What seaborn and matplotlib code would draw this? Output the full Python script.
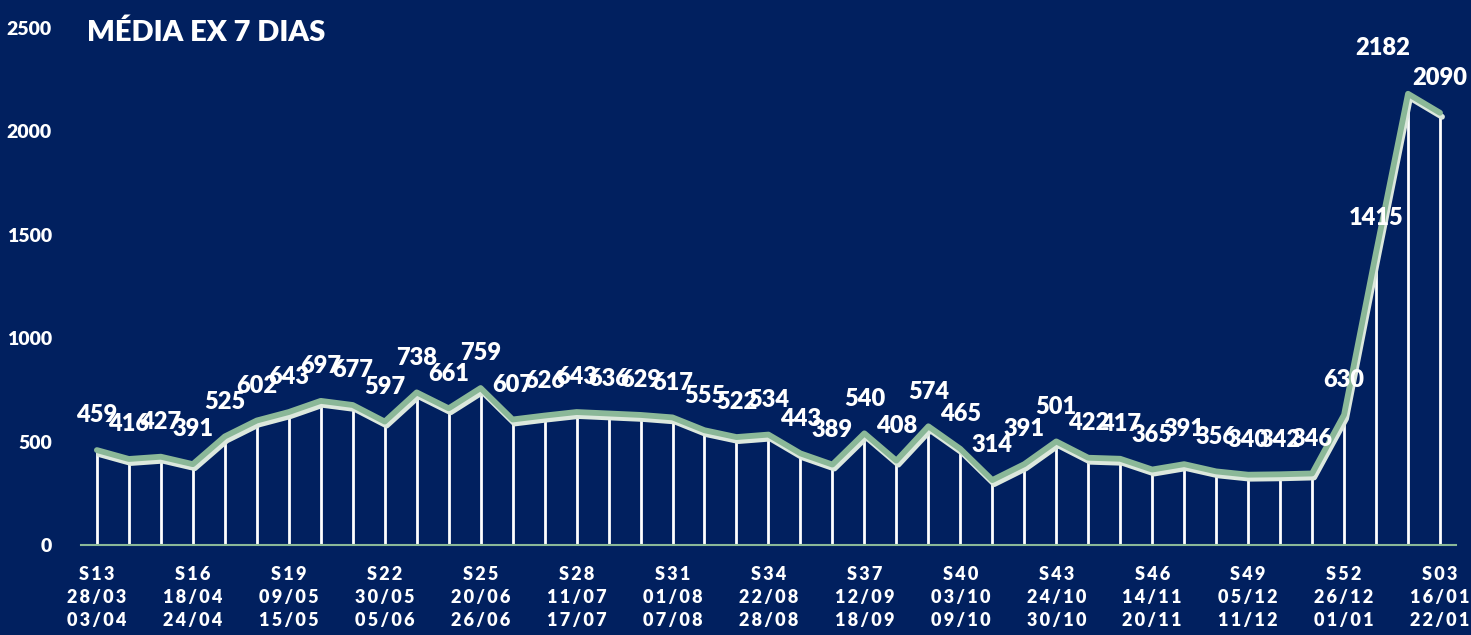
import matplotlib
matplotlib.use("Agg")
import matplotlib.pyplot as plt
import matplotlib.transforms as mtransforms
import seaborn as sns
import pandas as pd
import numpy as np

weeks = ["S13","S14","S15","S16","S17","S18","S19","S20","S21","S22","S23","S24","S25","S26",
         "S27","S28","S29","S30","S31","S32","S33","S34","S35","S36","S37","S38","S39","S40",
         "S41","S42","S43","S44","S45","S46","S47","S48","S49","S50","S51","S52","S01","S02","S03"]
values = [459, 416, 427, 391, 525, 602, 643, 697, 677, 597, 738, 661, 759, 607, 626, 643, 636,
          629, 617, 555, 522, 534, 443, 389, 540, 408, 574, 465, 314, 391, 501, 422, 417, 365,
          391, 356, 340, 342, 346, 630, 1415, 2182, 2090]
tick_weeks = ["S13","S16","S19","S22","S25","S28","S31","S34","S37","S40","S43","S46","S49","S52","S03"]
tick_start = ["28/03","18/04","09/05","30/05","20/06","11/07","01/08","22/08","12/09","03/10",
              "24/10","14/11","05/12","26/12","16/01"]
tick_end = ["03/04","24/04","15/05","05/06","26/06","17/07","07/08","28/08","18/09","09/10",
            "30/10","20/11","11/12","01/01","22/01"]
title = "MÉDIA EX 7 DIAS"

BG = "#01205F"
GREEN = "#8BB898"
LIGHT = "#DCE8DD"

sns.set_style("white", {"axes.facecolor": BG, "figure.facecolor": BG})
plt.rcParams["font.family"] = ["Lato", "DejaVu Sans"]

df = pd.DataFrame({"idx": np.arange(len(values)), "week": weeks, "value": values})

fig = plt.figure(figsize=(14.71, 6.35), dpi=100)
ax = fig.add_axes([0.055, 0.1417, 0.9348, 0.8142])
ax.set_facecolor(BG)

# drop lines
ax.vlines(df["idx"], 0, df["value"], color="white", lw=2, zorder=2)

# light shadow line, offset downward
shadow = mtransforms.offset_copy(ax.transData, fig=fig, x=2, y=-4, units="dots")
sns.lineplot(data=df, x="idx", y="value", ax=ax, color=LIGHT, lw=4.2, zorder=3,
             transform=shadow, solid_capstyle="round")
sns.lineplot(data=df, x="idx", y="value", ax=ax, color=GREEN, lw=4.2, zorder=4,
             solid_capstyle="round")

for i, v in enumerate(values):
    dx = 0
    dy = 25
    if i == len(values) - 2:
        dx, dy = -18, 33
    ax.annotate(str(v), (i, v), xytext=(dx, dy), textcoords="offset points",
                ha="center", va="center", color="white", fontsize=17, fontweight="heavy",
                zorder=6)

ax.set_xlim(-0.5, len(values) - 0.5)
ax.set_ylim(0, 2500)
ax.set_yticks([0, 500, 1000, 1500, 2000, 2500])
ax.set_yticklabels(["0", "500", "1000", "1500", "2000", "2500"])
ax.tick_params(axis="y", length=0, pad=21, labelcolor="white", labelsize=14)
for t in ax.get_yticklabels():
    t.set_fontweight("heavy")

def spaced(s):
    return "\u2009".join(s)

ax.set_xticks(np.arange(len(values)))
labels = [""] * len(values)
for k in range(len(tick_weeks)):
    labels[k * 3] = f"{spaced(tick_weeks[k])}\n{spaced(tick_start[k])}\n{spaced(tick_end[k])}"
ax.set_xticklabels(labels, linespacing=1.45)
ax.set_xticks(np.arange(len(values) + 1) - 0.5, minor=True)
ax.tick_params(axis="x", which="major", direction="out", length=6, color=GREEN, width=1.2,
               labelcolor="white", labelsize=13, pad=9)
ax.tick_params(axis="x", which="minor", direction="in", length=6, color=GREEN, width=1.2)
for t in ax.get_xticklabels():
    t.set_fontweight("heavy")

ax.set_xlabel("")
ax.set_ylabel("")
for s in ["top", "right", "left"]:
    ax.spines[s].set_visible(False)
ax.spines["bottom"].set_color(GREEN)
ax.spines["bottom"].set_linewidth(1.5)

fig.text(0.059, 0.948, title, color="white", fontsize=21, fontweight="heavy",
         ha="left", va="center")

fig.savefig("out.png", dpi=100, facecolor=BG)
